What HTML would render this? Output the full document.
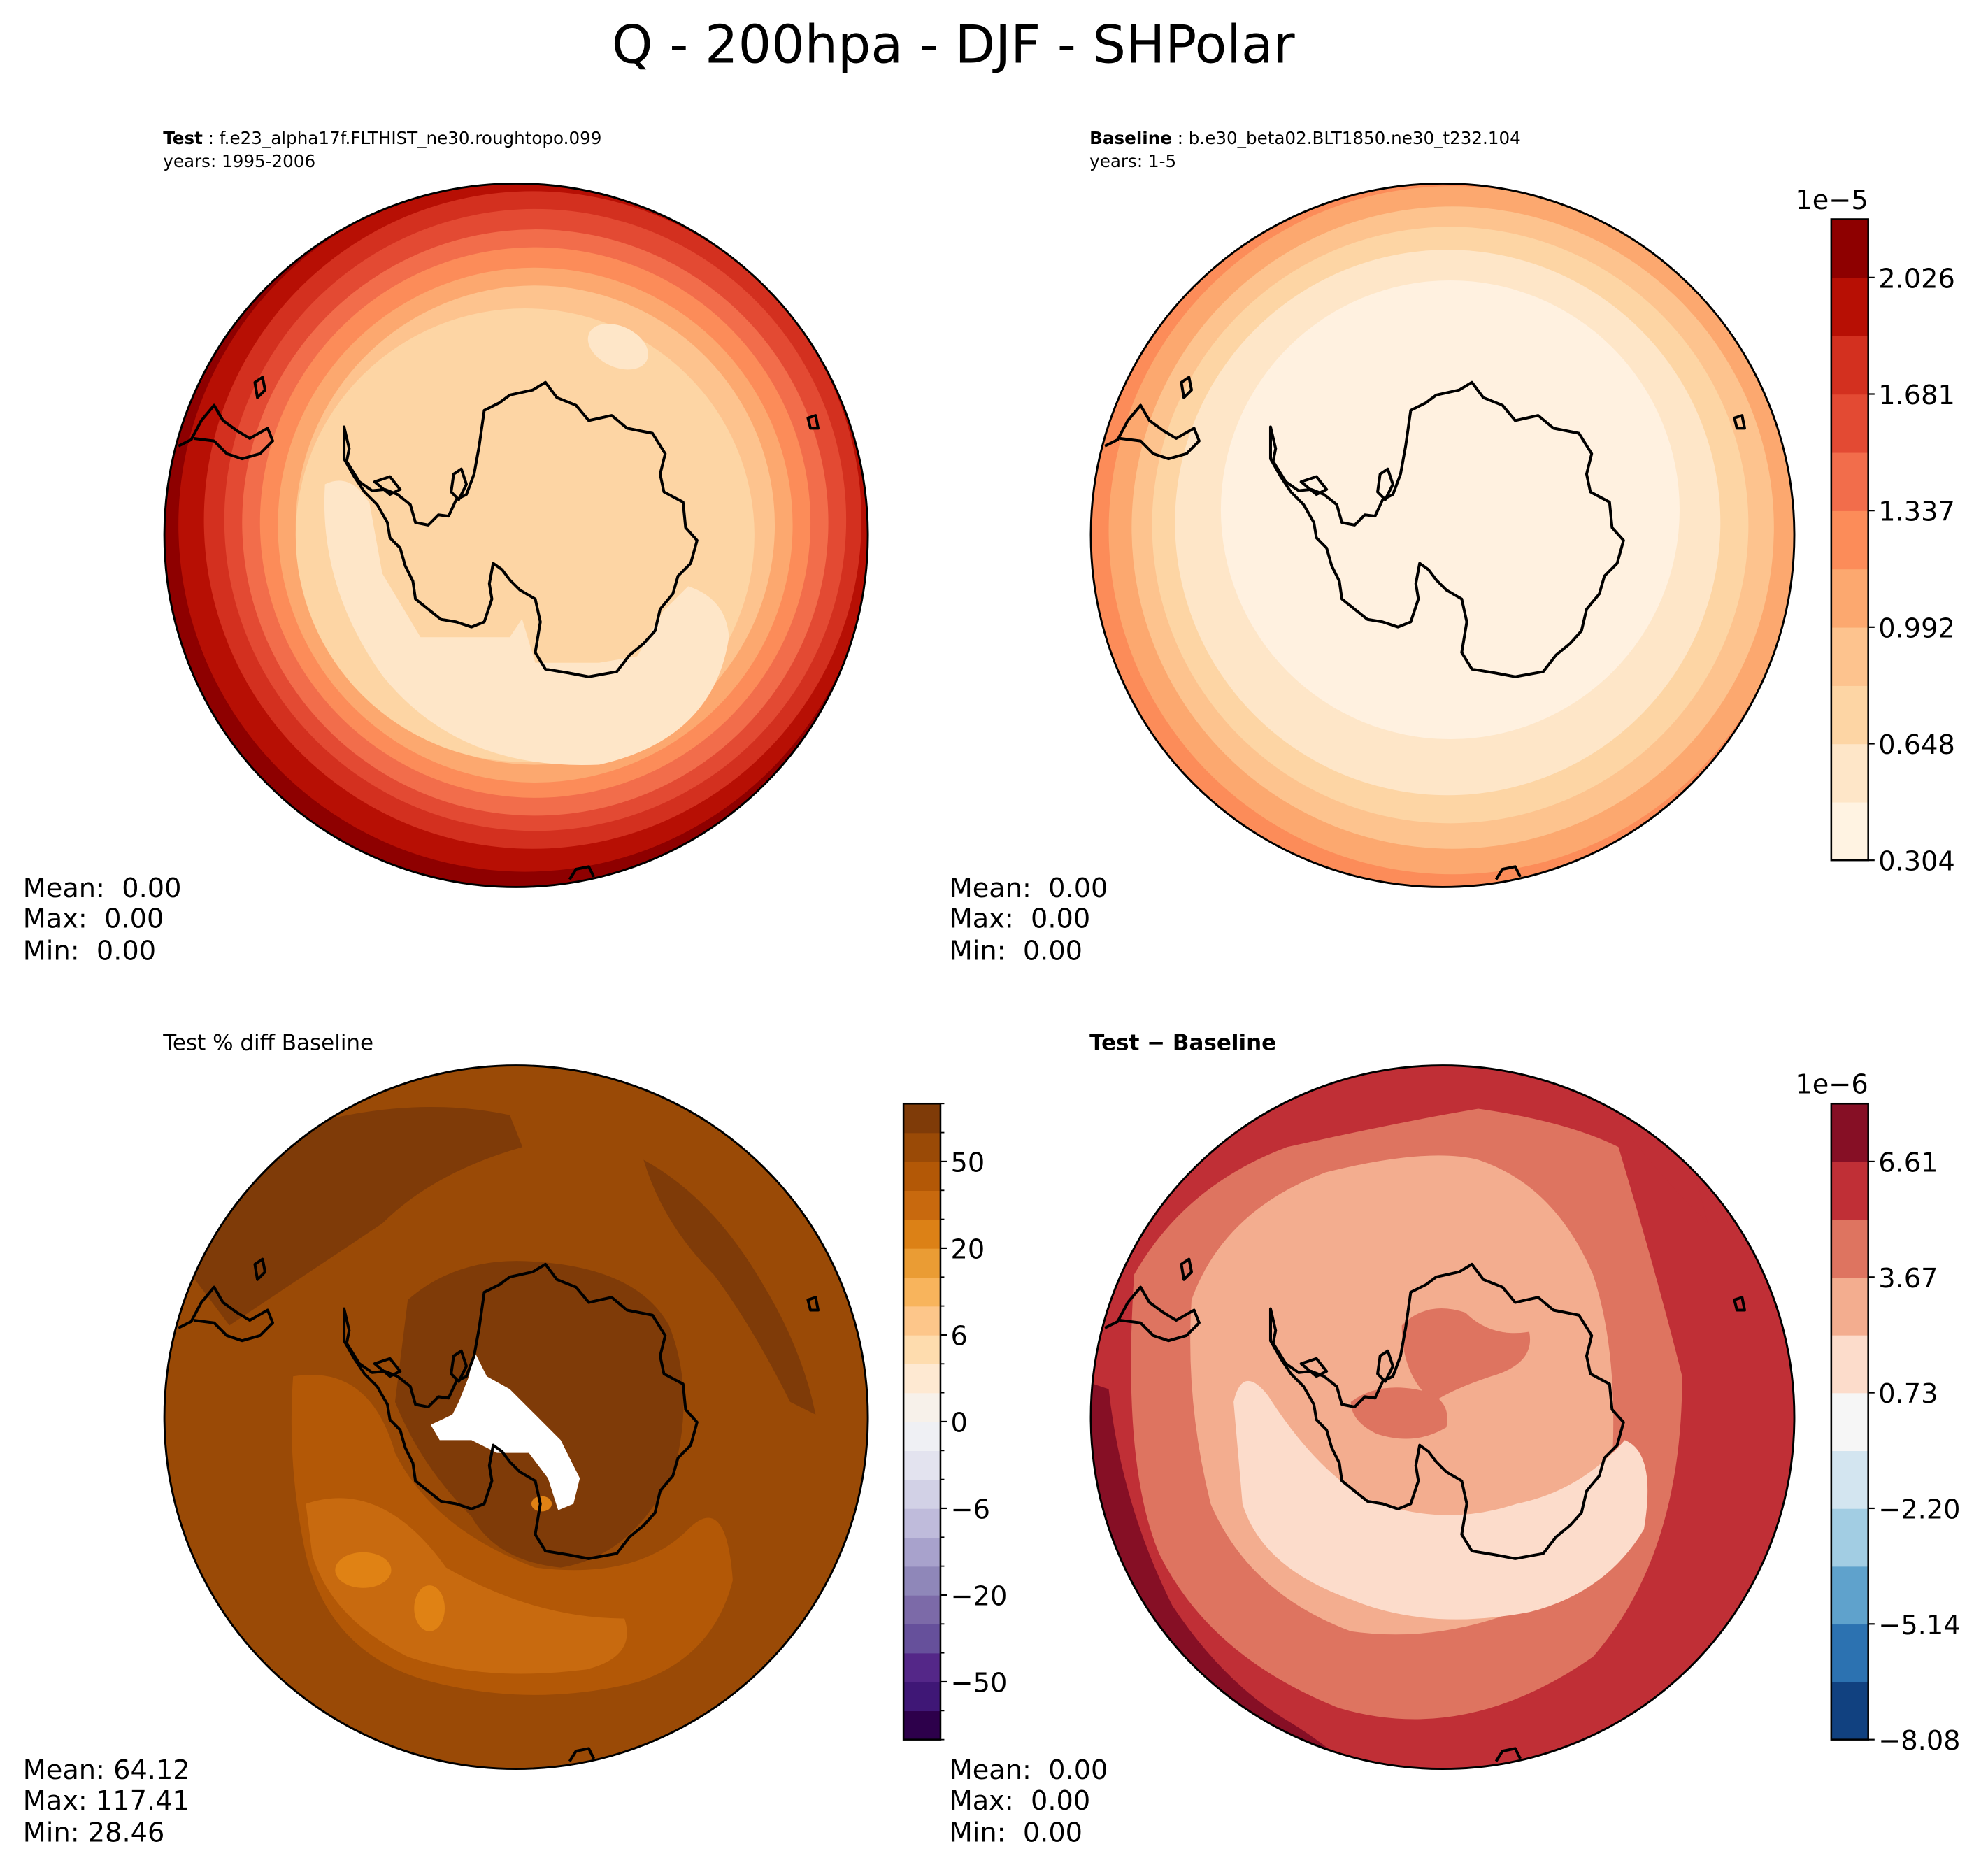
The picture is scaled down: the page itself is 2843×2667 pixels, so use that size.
<!DOCTYPE html>
<html><head><meta charset="utf-8"><style>
html,body{margin:0;padding:0;background:#fff}
svg{display:block}
text{font-family:"DejaVu Sans","Liberation Sans",sans-serif;fill:#000;white-space:pre}
</style></head><body>
<svg id="fig" width="2843" height="2667" viewBox="0 0 1560 1463.4" xmlns="http://www.w3.org/2000/svg" xml:space="preserve">
<defs>
<clipPath id="c1"><circle cx="405" cy="420" r="276"/></clipPath>
<clipPath id="c2"><circle cx="1132" cy="420" r="276"/></clipPath>
<clipPath id="c3"><circle cx="405" cy="1112" r="276"/></clipPath>
<clipPath id="c4"><circle cx="1132" cy="1112" r="276"/></clipPath>
<g id="coast" fill="none" stroke="#000" stroke-width="2.2" stroke-linejoin="round">
<path d="M270,335 L274,352 L272,362 L282,378 L292,385 L302,384 L312,388 L322,396 L326,410 L336,412 L344,404 L352,405 L358,392 L366,388 L372,372 L376,350 L380,322 L392,316 L400,310 L418,306 L428,300 L437,312 L452,318 L462,330 L480,326 L492,336 L512,340 L522,356 L518,372 L521,386 L536,394 L538,414 L547,424 L542,442 L532,452 L528,466 L518,478 L514,495 L505,505 L494,514 L484,527 L462,531 L446,528 L428,525 L420,512 L424,488 L420,470 L408,463 L400,455 L394,447 L387,442 L384,458 L386,470 L380,488 L370,492 L358,488 L346,486 L336,478 L326,470 L324,456 L318,444 L314,430 L306,422 L304,410 L296,396 L286,386 L278,374 L270,360 Z"/>
<path d="M356,372 L362,368 L366,380 L360,392 L354,386 Z"/>
<path d="M294,378 L306,374 L314,384 L306,388 Z"/>
<path d="M140,350 L150,345 L158,330 L168,318 L175,330 L186,338 L196,344 L210,336 L214,346 L204,356 L190,360 L178,356 L168,346 L152,344"/>
<path d="M200,300 L206,296 L208,306 L202,312 Z"/>
<path d="M634,328 L640,326 L642,336 L636,336 Z"/>
<path d="M447,690 L452,682 L462,680 L466,688"/>
</g>
</defs>

<text x="748" y="49" font-size="41" text-anchor="middle">Q - 200hpa - DJF - SHPolar</text>

<!-- Panel 1 -->
<g>
<text x="128" y="113" font-size="13.5"><tspan font-weight="bold">Test</tspan> : f.e23_alpha17f.FLTHIST_ne30.roughtopo.099</text>
<text x="128" y="131" font-size="13.5">years: 1995-2006</text>
<g clip-path="url(#c1)">
<circle cx="405" cy="420" r="290" fill="#8e0000"/>
<circle cx="412" cy="412" r="272" fill="#b70f04"/>
<circle cx="418" cy="408" r="258" fill="#d3301f"/>
<circle cx="420" cy="408" r="244" fill="#e34a33"/>
<circle cx="420" cy="410" r="230" fill="#f26d4b"/>
<circle cx="420" cy="410" r="216" fill="#fc8c59"/>
<circle cx="420" cy="412" r="202" fill="#fca86f"/>
<circle cx="420" cy="412" r="188" fill="#fdc38e"/>
<ellipse cx="412" cy="420" rx="180" ry="178" fill="#fdd5a4"/>
<path d="M255,380 Q250,460 300,530 Q360,605 470,600 Q560,580 572,500 Q570,470 540,460 L520,480 L500,515 L470,520 L440,460 L420,470 L400,500 L330,500 L300,450 L290,395 Q275,370 255,380 Z" fill="#fee6c8"/>
<ellipse cx="485" cy="272" rx="25" ry="16" fill="#fee6c8" transform="rotate(25 485 272)"/>
<path d="M300,420 L320,470 L350,490 L380,495 L405,470 L420,520 L470,520 L500,505 L520,475 L530,450 L520,440 L500,450 L480,470 L455,460 L420,455 L400,450 Z" fill="#fdd5a4"/>
</g>
<use href="#coast"/>
<circle cx="405" cy="420" r="276" fill="none" stroke="#000" stroke-width="1.6"/>
<text x="18" y="704" font-size="21">Mean:  0.00</text>
<text x="18" y="728" font-size="21">Max:  0.00</text>
<text x="18" y="753" font-size="21">Min:  0.00</text>
</g>

<!-- Panel 2 -->
<g>
<text x="855" y="113" font-size="13.5"><tspan font-weight="bold">Baseline</tspan> : b.e30_beta02.BLT1850.ne30_t232.104</text>
<text x="855" y="131" font-size="13.5">years: 1-5</text>
<g clip-path="url(#c2)">
<circle cx="1132" cy="420" r="290" fill="#fc8c59"/>
<circle cx="1140" cy="416" r="270" fill="#fca86f"/>
<circle cx="1140" cy="414" r="252" fill="#fdc38e"/>
<circle cx="1138" cy="412" r="234" fill="#fdd5a4"/>
<circle cx="1136" cy="410" r="214" fill="#fee6c8"/>
<ellipse cx="1138" cy="400" rx="180" ry="180" fill="#fff1e0"/>
</g>
<use href="#coast" x="727"/>
<circle cx="1132" cy="420" r="276" fill="none" stroke="#000" stroke-width="1.6"/>
<text x="745" y="704" font-size="21">Mean:  0.00</text>
<text x="745" y="728" font-size="21">Max:  0.00</text>
<text x="745" y="753" font-size="21">Min:  0.00</text>
</g>

<!-- Panel 3 -->
<g>
<text x="128" y="824" font-size="17">Test % diff Baseline</text>
<g clip-path="url(#c3)">
<circle cx="405" cy="1112" r="290" fill="#9a4a06"/>
<path d="M150,1000 Q170,920 250,880 Q330,860 400,875 L410,900 Q340,920 300,960 Q240,1000 180,1040 Z" fill="#7f3b08"/>
<path d="M505,910 Q560,940 600,1010 Q630,1060 640,1110 L620,1100 Q590,1040 560,1000 Q520,960 505,910 Z" fill="#7f3b08"/>
<path d="M320,1020 Q360,985 420,990 Q500,995 525,1040 Q545,1090 530,1150 Q500,1220 440,1230 Q390,1225 370,1190 Q330,1150 310,1100 Z" fill="#7f3b08"/>
<path d="M230,1080 Q290,1070 310,1140 Q340,1200 420,1230 Q500,1240 540,1200 Q570,1170 575,1240 Q560,1300 500,1320 Q420,1340 340,1320 Q260,1300 240,1220 Q225,1150 230,1080 Z" fill="#b35806"/>
<path d="M240,1180 Q300,1160 350,1230 Q420,1270 490,1270 Q500,1300 460,1310 Q380,1320 320,1300 Q260,1270 245,1220 Z" fill="#c86a0f"/>
<ellipse cx="285" cy="1232" rx="22" ry="14" fill="#e08214"/>
<ellipse cx="337" cy="1262" rx="12" ry="18" fill="#e08214"/>
<ellipse cx="425" cy="1180" rx="8" ry="6" fill="#e08214"/>
<path d="M372,1060 L382,1080 L400,1090 L420,1110 L440,1130 L455,1160 L450,1180 L438,1185 L430,1160 L415,1140 L390,1140 L370,1130 L345,1130 L338,1118 L355,1110 L360,1100 L368,1080 Z" fill="#fff"/>
</g>
<use href="#coast" y="692"/>
<circle cx="405" cy="1112" r="276" fill="none" stroke="#000" stroke-width="1.6"/>
<text x="18" y="1396" font-size="21">Mean: 64.12</text>
<text x="18" y="1420" font-size="21">Max: 117.41</text>
<text x="18" y="1445" font-size="21">Min: 28.46</text>
</g>

<!-- Panel 4 -->
<g>
<text x="855" y="824" font-size="17" font-weight="bold">Test − Baseline</text>
<g clip-path="url(#c4)">
<circle cx="1132" cy="1112" r="290" fill="#c02f36"/>
<path d="M840,1080 L870,1090 Q880,1180 920,1260 Q960,1320 1010,1350 Q1060,1380 1090,1420 L840,1420 Z" fill="#860f25"/>
<path d="M890,1000 Q930,930 1010,900 Q1100,880 1160,870 Q1230,880 1270,900 Q1300,1000 1320,1080 Q1320,1220 1250,1300 Q1150,1370 1050,1340 Q950,1300 910,1220 Q880,1150 890,1000 Z" fill="#de7460"/>
<path d="M1270,880 Q1300,920 1340,960 L1320,880 Z" fill="#c02f36"/>
<path d="M935,1020 Q960,950 1040,920 Q1120,900 1160,910 Q1220,930 1250,1000 Q1270,1060 1265,1150 Q1260,1220 1200,1260 Q1130,1290 1060,1280 Q980,1250 950,1180 Q930,1100 935,1020 Z" fill="#f3ad8f"/>
<path d="M968,1100 Q975,1070 995,1095 Q1030,1150 1070,1175 Q1130,1200 1190,1180 Q1240,1170 1275,1130 Q1300,1140 1290,1200 Q1260,1250 1200,1265 Q1120,1280 1060,1255 Q990,1230 975,1180 Z" fill="#fcdccb"/>
<path d="M1100,1040 Q1120,1020 1150,1030 Q1170,1050 1200,1045 Q1205,1070 1170,1080 Q1140,1090 1125,1100 Q1100,1080 1100,1040 Z" fill="#de7460"/>
<path d="M1060,1100 Q1080,1085 1110,1090 Q1140,1095 1135,1120 Q1110,1135 1080,1125 Q1060,1115 1060,1100 Z" fill="#de7460"/>
</g>
<use href="#coast" x="727" y="692"/>
<circle cx="1132" cy="1112" r="276" fill="none" stroke="#000" stroke-width="1.6"/>
<text x="745" y="1396" font-size="21">Mean:  0.00</text>
<text x="745" y="1420" font-size="21">Max:  0.00</text>
<text x="745" y="1445" font-size="21">Min:  0.00</text>
</g>

<g id="cbars"></g>
</svg>
<script>
// Colorbar 1 (Test/Baseline), bottom-to-top colors
const cb1Colors = ["#fff3e2","#fee6c8","#fdd5a4","#fdc38e","#fca86f","#fc8c59","#f26d4b","#e34a33","#d3301f","#b70f04","#8e0000"];
const cb1TickLabels = ["0.304","0.648","0.992","1.337","1.681","2.026"];
const cb1TickBounds = [0,2,4,6,8,10];
// Colorbar 3 (% diff), bottom-to-top
const cb3Colors = ["#2d004b","#3f1776","#542788","#66509b","#7c6aa8","#8f87b9","#a8a2cc","#bfbbdb","#d2d1e6","#e3e3ef","#eff0f4","#f7f1ea","#fee9d2","#fedcae","#fdc68a","#f8b45c","#ea9c34","#dc8116","#c8690e","#b35806","#9a4a06","#7f3b08"];
const cb3TickLabels = ["\u221250","\u221220","\u22126","0","6","20","50"];
const cb3TickBounds = [2,5,8,11,14,17,20];
// Colorbar 4 (Test - Baseline), bottom-to-top
const cb4Colors = ["#114180","#2c72b1","#5fa2cc","#a2cde3","#d3e5f0","#f6f6f6","#fcdccb","#f3ad8f","#de7460","#c02f36","#860f25"];
const cb4TickLabels = ["\u22128.08","\u22125.14","\u22122.20","0.73","3.67","6.61"];
const cb4TickBounds = [0,2,4,6,8,10];

const NS="http://www.w3.org/2000/svg";
const root=document.getElementById('cbars');
function mk(tag,attrs){const e=document.createElementNS(NS,tag);for(const k in attrs)e.setAttribute(k,attrs[k]);return e;}
function drawBar(name,x,y0,y1,w,colors,labels,bounds,minor,exp){
  const g=mk('g',{});
  
  
  const n=colors.length, h=(y1-y0)/n;
  const yOf=b=>y1-b*h;
  colors.forEach((c,i)=>{
    const r=mk('rect',{x:x,y:yOf(i+1),width:w,height:h+0.4,fill:c});
    
    
    g.appendChild(r);
  });
  g.appendChild(mk('rect',{x:x,y:y0,width:w,height:y1-y0,fill:'none',stroke:'#000','stroke-width':1.4}));
  if(minor){for(let b=0;b<=n;b++){g.appendChild(mk('line',{x1:x+w,x2:x+w+3,y1:yOf(b),y2:yOf(b),stroke:'#000','stroke-width':1}));}}
  labels.forEach((l,i)=>{
    const yy=yOf(bounds[i]);
    g.appendChild(mk('line',{x1:x+w,x2:x+w+5,y1:yy,y2:yy,stroke:'#000','stroke-width':1.2}));
    const t=mk('text',{x:x+w+8,y:yy+8,'font-size':21});
    t.textContent=l;
    
    
    g.appendChild(t);
  });
  if(exp){
    const t=mk('text',{x:x+w,y:y0-8,'font-size':21,'text-anchor':'end'});
    t.textContent=exp;
    
    
    g.appendChild(t);
  }
  root.appendChild(g);
}
drawBar('test-baseline-colorbar',1437,172,675,29,cb1Colors,cb1TickLabels,cb1TickBounds,false,'1e\u22125');
drawBar('pct-diff-colorbar',709,866,1365,29,cb3Colors,cb3TickLabels,cb3TickBounds,true,null);
drawBar('diff-colorbar',1437,866,1365,29,cb4Colors,cb4TickLabels,cb4TickBounds,false,'1e\u22126');
</script>
</body></html>
